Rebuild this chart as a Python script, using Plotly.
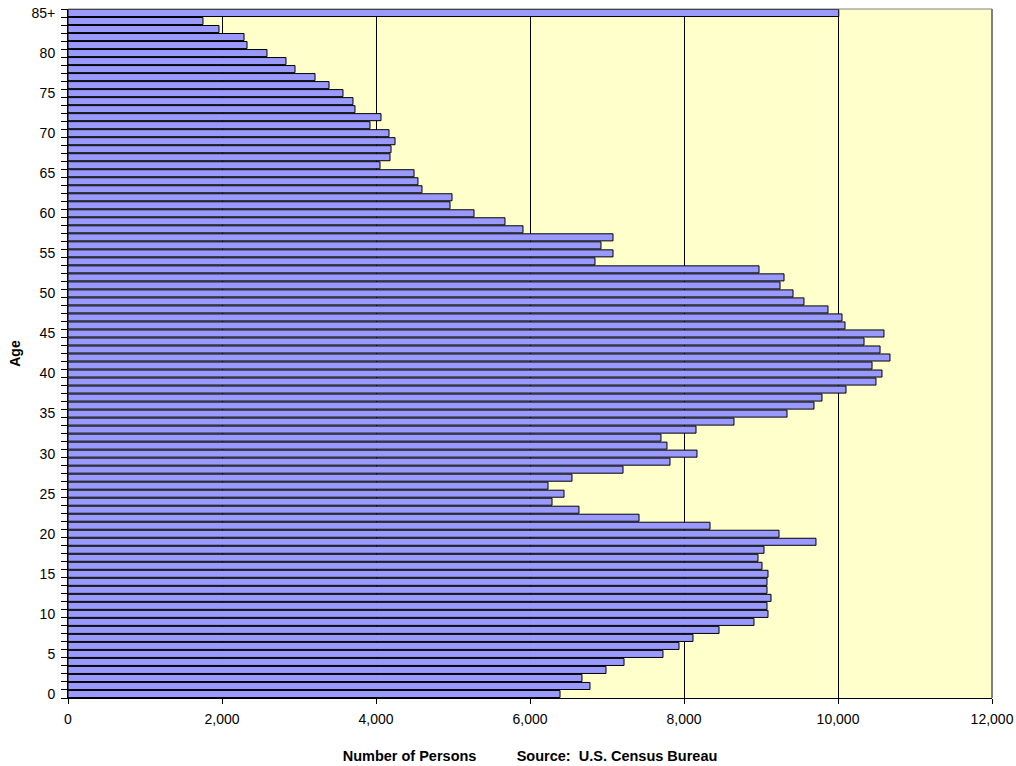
import plotly.graph_objects as go

ages = list(range(0, 86))
age_labels = [str(a) for a in range(0, 85, 5)] + ["85+"]
age_label_positions = list(range(0, 85, 5)) + [85]

persons = [
    6390, 6779, 6675, 6987, 7221, 7727, 7935, 8117, 8455, 8909,   # 0-9
    9091, 9078, 9130, 9078, 9078, 9091, 9013, 8961, 9039, 9714,   # 10-19
    9234, 8338, 7416, 6636, 6286, 6442, 6234, 6545, 7208, 7818,   # 20-29
    8169, 7779, 7701, 8156, 8649, 9338, 9688, 9792, 10104, 10493, # 30-39
    10571, 10442, 10675, 10546, 10338, 10597, 10091, 10052, 9870, 9558,  # 40-49
    9416, 9247, 9299, 8974, 6844, 7078, 6922, 7078, 5909, 5675,   # 50-59
    5273, 4961, 4987, 4597, 4545, 4494, 4052, 4182, 4195, 4247,   # 60-69
    4169, 3922, 4065, 3727, 3701, 3571, 3390, 3208, 2948, 2831,   # 70-79
    2584, 2325, 2286, 1961, 1753, 10010                          # 80-85+
]

x_ticks = [0, 2000, 4000, 6000, 8000, 10000, 12000]

fig = go.Figure()
fig.add_trace(go.Bar(
    x=persons, y=ages, orientation="h",
    marker=dict(color="#9999FF", line=dict(color="#000000", width=1)),
    hoverinfo="x+y",
))

font_main = "Liberation Sans, Arial, sans-serif"

fig.update_layout(
    width=1016, height=766,
    margin=dict(l=68, r=24, t=9, b=68, autoexpand=False),
    paper_bgcolor="white",
    plot_bgcolor="#FFFFCC",
    bargap=0.12,
    showlegend=False,
    font=dict(family=font_main, size=14, color="#000000"),
    xaxis=dict(
        range=[0, 12000],
        tickvals=x_ticks,
        tickformat=",",
        automargin=False,
        showgrid=True, gridcolor="#000000", gridwidth=1,
        ticks="outside", ticklen=5, tickcolor="#000000",
        ticklabelstandoff=3,
        showline=True, linecolor="#000000", linewidth=1,
        zeroline=False,
        tickfont=dict(size=14),
        title=dict(text="<b>Number of Persons          Source:  U.S. Census Bureau</b>",
                   font=dict(size=14.5), standoff=25),
    ),
    yaxis=dict(
        range=[-0.5, 85.5],
        tickvals=age_label_positions,
        ticktext=age_labels,
        automargin=False,
        ticks="outside", ticklen=6, tickcolor="rgba(0,0,0,0)",
        ticklabelstandoff=3,
        showgrid=False, zeroline=False,
        showline=True, linecolor="#000000", linewidth=1,
        tickfont=dict(size=14),
        minor=dict(tick0=-0.5, dtick=1, ticks="outside", ticklen=6, tickcolor="#000000", showgrid=False),
        title=dict(text="<b>Age</b>", font=dict(size=14), standoff=7),
    ),
)

# gray outline on the top and right of the plot area
fig.add_shape(type="line", xref="paper", yref="paper", x0=0, x1=1, y0=1, y1=1,
              line=dict(color="#808080", width=1))
fig.add_shape(type="line", xref="paper", yref="paper", x0=1, x1=1, y0=0, y1=1,
              line=dict(color="#808080", width=2))

fig.write_html(
    "out.html",
    config={"displayModeBar": False},
    post_script="document.body.style.margin='0';document.body.style.overflow='hidden';",
)
